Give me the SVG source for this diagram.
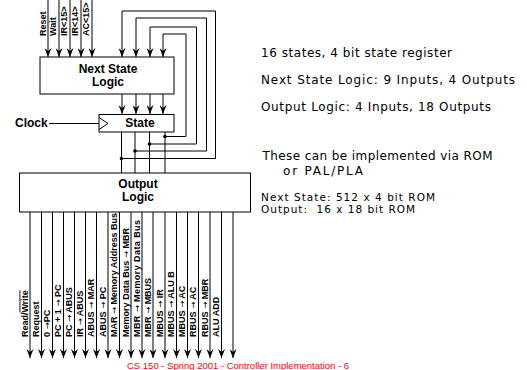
<svg xmlns="http://www.w3.org/2000/svg" width="527" height="370" viewBox="0 0 527 370">
<defs>
<marker id="ah" markerUnits="userSpaceOnUse" markerWidth="9" markerHeight="7" viewBox="0 0 9 7" refX="9" refY="3.5" orient="auto">
<path d="M0,0 L9,3.5 L0,7 L3,3.5 z" fill="#000"/>
</marker>
<style>
.box{fill:#fff;stroke:#000;stroke-width:1}
.ln{fill:none;stroke:#000;stroke-width:1}
.arr{fill:none;stroke:#000;stroke-width:1;marker-end:url(#ah)}
.dot{fill:#000}
.title{font-family:"Liberation Sans",Arial,sans-serif;font-weight:bold;font-size:12px;fill:#000}
.lab{font-family:"Liberation Sans",Arial,sans-serif;font-weight:bold;font-size:9px;fill:#000}
.sm{font-family:"DejaVu Sans",sans-serif;font-weight:normal;font-size:8.5px}
.note{font-family:"Comic Sans MS","DejaVu Sans",sans-serif;font-size:12px;fill:#000}
.note2{font-family:"Comic Sans MS","DejaVu Sans",sans-serif;font-size:10.5px;fill:#000}
.foot{font-family:"Liberation Sans",Arial,sans-serif;font-size:9.5px;fill:#f00}
</style>
</defs>
<rect width="527" height="370" fill="#fff"/>

<g id="connectors">
<line class="arr" x1="48" y1="0" x2="48" y2="57"/>
<line class="arr" x1="59" y1="0" x2="59" y2="57"/>
<line class="arr" x1="70" y1="0" x2="70" y2="57"/>
<line class="arr" x1="81" y1="0" x2="81" y2="57"/>
<line class="arr" x1="92" y1="0" x2="92" y2="57"/>
<line class="arr" x1="122" y1="94" x2="122" y2="114"/>
<line class="arr" x1="136" y1="94" x2="136" y2="114"/>
<line class="arr" x1="150" y1="94" x2="150" y2="114"/>
<line class="arr" x1="163" y1="94" x2="163" y2="114"/>
<line class="ln" x1="121.5" y1="132" x2="121.5" y2="173"/>
<line class="ln" x1="135" y1="132" x2="135" y2="173"/>
<line class="ln" x1="149.5" y1="132" x2="149.5" y2="173"/>
<line class="ln" x1="165" y1="132" x2="165" y2="173"/>
<path class="arr" d="M121.5,158.5 H215.5 V11 H122 V57"/>
<path class="arr" d="M135,151 H206.5 V18 H136 V57"/>
<path class="arr" d="M149.5,144 H196.5 V27 H150 V57"/>
<path class="arr" d="M165,136.5 H186 V34 H163 V57"/>
<circle class="dot" cx="121.5" cy="158.5" r="1.8"/>
<circle class="dot" cx="135" cy="151" r="1.8"/>
<circle class="dot" cx="149.5" cy="144" r="1.8"/>
<circle class="dot" cx="165" cy="136.5" r="1.8"/>
<line class="ln" x1="49" y1="123.5" x2="99" y2="123.5"/>
<line class="arr" x1="30" y1="212" x2="30" y2="358"/>
<line class="arr" x1="41.5" y1="212" x2="41.5" y2="358"/>
<line class="arr" x1="52.5" y1="212" x2="52.5" y2="358"/>
<line class="arr" x1="63.5" y1="212" x2="63.5" y2="358"/>
<line class="arr" x1="74.5" y1="212" x2="74.5" y2="358"/>
<line class="arr" x1="85.5" y1="212" x2="85.5" y2="358"/>
<line class="arr" x1="96.5" y1="212" x2="96.5" y2="358"/>
<line class="arr" x1="108" y1="212" x2="108" y2="358"/>
<line class="arr" x1="119.5" y1="212" x2="119.5" y2="358"/>
<line class="arr" x1="131" y1="212" x2="131" y2="358"/>
<line class="arr" x1="142" y1="212" x2="142" y2="358"/>
<line class="arr" x1="153" y1="212" x2="153" y2="358"/>
<line class="arr" x1="165" y1="212" x2="165" y2="358"/>
<line class="arr" x1="176.5" y1="212" x2="176.5" y2="358"/>
<line class="arr" x1="187.5" y1="212" x2="187.5" y2="358"/>
<line class="arr" x1="198.5" y1="212" x2="198.5" y2="358"/>
<line class="arr" x1="210" y1="212" x2="210" y2="358"/>
<line class="arr" x1="221.5" y1="212" x2="221.5" y2="358"/>
<line class="arr" x1="233" y1="212" x2="233" y2="358"/>
</g>

<g id="next-state-logic">
<rect class="box" x="40" y="57" width="134" height="37"/>
<text class="title" x="108" y="73" text-anchor="middle">Next State</text>
<text class="title" x="108" y="86" text-anchor="middle">Logic</text>
</g>

<g id="state">
<rect class="box" x="99" y="114.5" width="75" height="17.5"/>
<polyline class="ln" points="99,117.5 108,123.5 99,129.5"/>
<text class="title" x="140" y="127" text-anchor="middle">State</text>
</g>

<g id="clock">
<text class="title" x="15" y="127">Clock</text>
</g>

<g id="output-logic">
<rect class="box" x="19.5" y="173" width="231" height="39"/>
<text class="title" x="138" y="187.5" text-anchor="middle">Output</text>
<text class="title" x="138" y="201" text-anchor="middle">Logic</text>
</g>

<g id="input-labels">
<text class="lab" transform="translate(45.5,36) rotate(-90)">Reset</text>
<text class="lab" transform="translate(56,36) rotate(-90)">Wait</text>
<text class="lab" transform="translate(67,36) rotate(-90)">IR&lt;15&gt;</text>
<text class="lab" transform="translate(78,36) rotate(-90)">IR&lt;14&gt;</text>
<text class="lab" transform="translate(89,36) rotate(-90)">AC&lt;15&gt;</text>
</g>

<g id="output-labels">
<text class="lab" transform="translate(27.5,337) rotate(-90)">Read/<tspan text-decoration="overline">Write</tspan></text>
<text class="lab" transform="translate(39,337) rotate(-90)">Request</text>
<text class="lab" transform="translate(50,337) rotate(-90)">0 <tspan class="sm">→</tspan>PC</text>
<text class="lab" transform="translate(61,337) rotate(-90)">PC + 1 <tspan class="sm">→</tspan> PC</text>
<text class="lab" transform="translate(72,337) rotate(-90)">PC <tspan class="sm">→</tspan> ABUS</text>
<text class="lab" transform="translate(83,337) rotate(-90)">IR <tspan class="sm">→</tspan> ABUS</text>
<text class="lab" transform="translate(94,337) rotate(-90)">ABUS <tspan class="sm">→</tspan> MAR</text>
<text class="lab" transform="translate(105.5,337) rotate(-90)">ABUS <tspan class="sm">→</tspan> PC</text>
<text class="lab" transform="translate(117,337) rotate(-90)" textLength="124">MAR <tspan class="sm">→</tspan> Memory Address Bus</text>
<text class="lab" transform="translate(128.5,337) rotate(-90)" textLength="109">Memory Data Bus <tspan class="sm">→</tspan> MBR</text>
<text class="lab" transform="translate(139.5,337) rotate(-90)" textLength="117">MBR <tspan class="sm">→</tspan> Memory Data Bus</text>
<text class="lab" transform="translate(150.5,337) rotate(-90)">MBR <tspan class="sm">→</tspan> MBUS</text>
<text class="lab" transform="translate(162.5,337) rotate(-90)">MBUS <tspan class="sm">→</tspan> IR</text>
<text class="lab" transform="translate(174,337) rotate(-90)">MBUS <tspan class="sm">→</tspan> ALU B</text>
<text class="lab" transform="translate(185,337) rotate(-90)">MBUS <tspan class="sm">→</tspan> AC</text>
<text class="lab" transform="translate(196,337) rotate(-90)">RBUS <tspan class="sm">→</tspan> AC</text>
<text class="lab" transform="translate(207.5,337) rotate(-90)">RBUS <tspan class="sm">→</tspan> MBR</text>
<text class="lab" transform="translate(219,337) rotate(-90)">ALU ADD</text>
</g>

<g id="notes">
<text class="note" x="261" y="57" textLength="191">16 states, 4 bit state register</text>
<text class="note" x="261" y="84" textLength="254">Next State Logic: 9 Inputs, 4 Outputs</text>
<text class="note" x="261" y="111" textLength="230">Output Logic: 4 Inputs, 18 Outputs</text>
<text class="note" x="262.5" y="160" textLength="230">These can be implemented via ROM</text>
<text class="note" x="283" y="175" textLength="80">or PAL/PLA</text>
<text class="note2" x="261" y="200.5" textLength="174">Next State: 512 x 4 bit ROM</text>
<text class="note2" x="261" y="212.5" textLength="154" xml:space="preserve">Output:  16 x 18 bit ROM</text>
</g>

<g id="footer">
<text class="foot" x="127" y="369" textLength="222">CS 150 - Spring 2001 - Controller Implementation - 6</text>
</g>
</svg>
